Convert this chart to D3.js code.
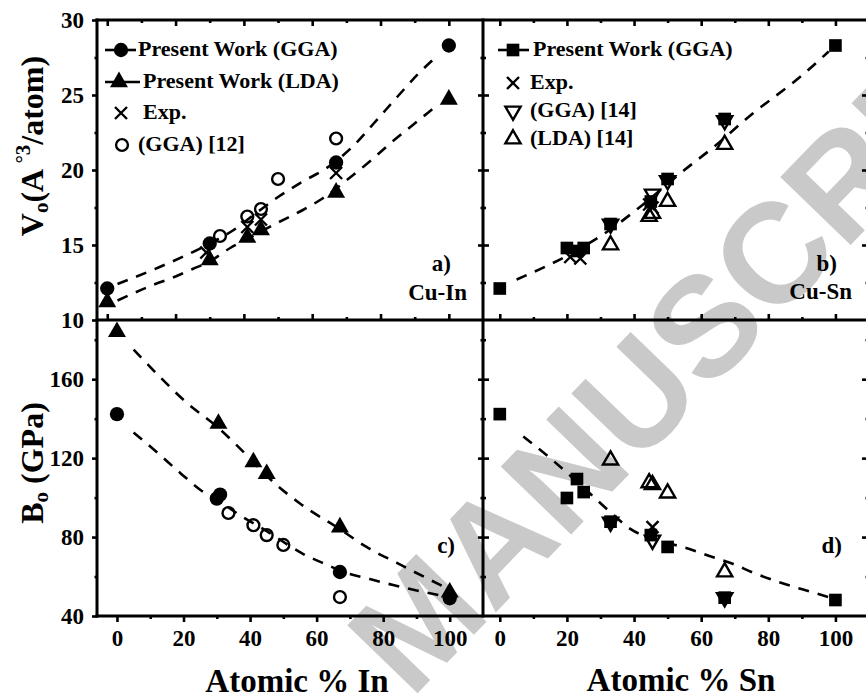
<!DOCTYPE html>
<html>
<head>
<meta charset="utf-8">
<script src="https://cdn.jsdelivr.net/npm/d3@7"></script>
<style>
  body { margin: 0; background: #fff; }
  text { font-family: "Liberation Serif", "Times New Roman", serif; font-weight: bold; }
</style>
</head>
<body>
<svg id="chart" width="866" height="699"></svg>
<script>
// ticks
const xTicks = [0, 20, 40, 60, 80, 100]
const xMinor = [10, 30, 50, 70, 90]
const vTicks = [10, 15, 20, 25, 30]
const vMinor = [12.5, 17.5, 22.5, 27.5]
const bTicks = [40, 80, 120, 160]
const bMinor = [60, 100, 140, 180]

// a) Cu-In volume
const inGgaX = [0, 30, 67, 100]
const inGgaV = [12.1, 15.1, 20.5, 28.3]
const inLdaX = [0, 30, 41, 45, 67, 100]
const inLdaV = [11.2, 14.0, 15.5, 16.0, 18.5, 24.7]
const inExpX = [29, 41, 45, 67]
const inExpV = [14.5, 16.2, 16.7, 19.8]
const inRef12X = [33, 41, 45, 50, 67]
const inRef12V = [15.6, 16.9, 17.4, 19.4, 22.1]
const fitInGgaVX = [3, 15, 30, 37, 44, 50, 57, 64, 72, 78, 85, 91, 97]
const fitInGgaV = [12.4, 13.5, 15.1, 16.0, 17.2, 18.2, 19.2, 20.1, 21.6, 23.1, 24.9, 26.4, 27.7]
const fitInLdaVX = [3, 13, 20, 25, 30, 36, 41, 45, 50, 57, 63, 70, 77, 83, 90, 97]
const fitInLdaV = [11.3, 12.3, 12.9, 13.4, 13.9, 14.8, 15.4, 15.9, 16.5, 17.3, 18.1, 19.3, 20.6, 21.8, 23.1, 24.4]

// b) Cu-Sn volume
const snGgaX = [0, 20, 23, 25, 33, 45, 50, 67, 100]
const snGgaV = [12.1, 14.8, 14.6, 14.8, 16.4, 17.9, 19.4, 23.4, 28.3]
const snExpX = [21, 24, 44.5, 45.5]
const snExpV = [14.2, 14.1, 17.7, 17.5]
const snRef14GgaX = [33, 45.5, 50, 67]
const snRef14GgaV = [16.4, 18.4, 19.3, 23.3]
const snRef14LdaX = [33, 44.5, 45.5, 50, 67]
const snRef14LdaV = [15.0, 16.9, 17.1, 17.9, 21.7]
const fitSnVX = [5, 14, 21, 34, 41, 55, 63, 75, 90, 98]
const fitSnV = [12.7, 13.6, 14.4, 16.2, 17.4, 20.0, 21.4, 23.7, 26.3, 27.9]

// c) Cu-In bulk modulus
const inGgaBX = [0, 30, 31, 67, 100]
const inGgaB = [142.3, 99.5, 101.5, 62.3, 49]
const inLdaBX = [0, 30.5, 41, 45, 67, 100]
const inLdaB = [184, 137.5, 118, 112, 85, 52]
const inRef12BX = [33.5, 41, 45, 50, 67]
const inRef12B = [92.2, 86, 81, 76, 49.6]
const fitInLdaBX = [5, 13, 21, 30, 41, 45, 55, 67, 75, 84, 98]
const fitInLdaB = [175, 161, 148, 136, 118, 111, 97, 84, 75, 67, 55]
const fitInGgaBX = [5, 12, 19, 25, 30, 37, 45, 56, 64, 67, 76, 83, 98]
const fitInGgaB = [133, 123, 112.5, 104, 99, 91, 83, 71.4, 65.3, 63, 58.7, 55.7, 50.1]

// d) Cu-Sn bulk modulus
const snGgaBX = [0, 20, 23, 25, 33, 45, 50, 67, 100]
const snGgaB = [142.3, 99.8, 109.4, 102.8, 87.8, 81, 75, 49.3, 48.1]
const snExpBX = [45.5]
const snExpB = [85]
const snRef14GgaBX = [33, 45.5, 67]
const snRef14GgaB = [87.6, 78.5, 49.3]
const snRef14LdaBX = [33, 44.5, 45.5, 50, 67]
const snRef14LdaB = [119, 107.5, 106.5, 102.3, 62.3]
const fitSnBX = [7, 15, 25, 34, 39, 47, 55, 62, 69, 76, 84, 94, 98]
const fitSnB = [131, 120, 105, 91, 84, 78.5, 74.7, 70.7, 66.7, 61.6, 56.7, 51.6, 49.5]

const legendA = ["Present Work (GGA)", "Present Work (LDA)", "Exp.", "(GGA) [12]"]
const legendB = ["Present Work (GGA)", "Exp.", "(GGA) [14]", "(LDA) [14]"]

var svg = d3.select("#chart")
svg.append("rect").attr("width", 866).attr("height", 699).attr("fill", "#fff")

var xA = d3.scaleLinear().domain([-3, 110]).range([97, 483])
var xB = d3.scaleLinear().domain([-5, 110]).range([483, 869])
var xC = d3.scaleLinear().domain([-6, 110]).range([97, 483])
var xD = d3.scaleLinear().domain([-5, 110]).range([483, 869])
var yTop = d3.scaleLinear().domain([10, 30]).range([320, 20])
var yBot = d3.scaleLinear().domain([40, 190]).range([616, 320])

// watermark
svg.append("text")
  .attr("transform", "translate(411,700) rotate(-46)")
  .style("font-family", "'Liberation Sans', Arial, sans-serif")
  .attr("font-size", 142)
  .attr("fill", "#c9c9c9")
  .text("MANUSCRIPT")

function axis(fn, scale, major, minor, size, transform, labels) {
  var g = svg.append("g").attr("transform", transform)
  g.call(fn(scale).tickValues(major).tickSizeOuter(0).tickSize(size)
    .tickPadding(labels ? 8 : 0).tickFormat(labels ? d3.format("d") : ""))
  g.call(function(s) { s.select(".domain").remove() })
  g.selectAll(".tick line").attr("stroke", "#000").attr("stroke-width", 2.6)
  g.selectAll(".tick text").attr("font-size", 23).attr("fill", "#000")
    .style("font-family", "'Liberation Serif', serif").style("font-weight", "bold")
  var m = svg.append("g").attr("transform", transform)
  m.call(fn(scale).tickValues(minor).tickSizeOuter(0).tickSize(size / 2).tickFormat(""))
  m.call(function(s) { s.select(".domain").remove() })
  m.selectAll(".tick line").attr("stroke", "#000").attr("stroke-width", 2.6)
}

// ticks: top panels
axis(d3.axisBottom, xA, xTicks, xMinor, 6, "translate(0,20)", false)
axis(d3.axisBottom, xB, xTicks, xMinor, 6, "translate(0,20)", false)
axis(d3.axisTop, xA, xTicks, xMinor, 6, "translate(0,320)", false)
axis(d3.axisTop, xB, xTicks, xMinor, 6, "translate(0,320)", false)
axis(d3.axisLeft, yTop, vTicks, vMinor, 5, "translate(97,0)", true)
axis(d3.axisLeft, yTop, vTicks.slice(1, 4), vMinor, 5, "translate(483,0)", false)
axis(d3.axisRight, yTop, vTicks.slice(1, 4), vMinor, 6, "translate(483,0)", false)
axis(d3.axisLeft, yTop, vTicks.slice(1, 4), vMinor, 7, "translate(869,0)", false)
// ticks: bottom panels
axis(d3.axisBottom, xC, xTicks, xMinor, 6, "translate(0,616)", true)
axis(d3.axisBottom, xD, xTicks, xMinor, 6, "translate(0,616)", true)
axis(d3.axisLeft, yBot, bTicks, bMinor, 5, "translate(97,0)", true)
axis(d3.axisLeft, yBot, bTicks.slice(1), bMinor, 5, "translate(483,0)", false)
axis(d3.axisRight, yBot, bTicks.slice(1), bMinor, 6, "translate(483,0)", false)
axis(d3.axisLeft, yBot, bTicks.slice(1), bMinor, 7, "translate(869,0)", false)

// frame
var frame = svg.append("g").attr("stroke", "#000").attr("stroke-width", 3).attr("fill", "none")
;[20, 320, 616].forEach(function(y) {
  frame.append("line").attr("x1", xA.range()[0] - 1.5).attr("x2", xB.range()[1]).attr("y1", y).attr("y2", y)
})
;[xA.range()[0], xB.range()[0], xB.range()[1]].forEach(function(x) {
  frame.append("line").attr("x1", x).attr("x2", x).attr("y1", 18.5).attr("y2", 617.5)
})

// fits
function fit(xs, ys, x, y) {
  var line = d3.line().x(function(d) { return x(d[0]) }).y(function(d) { return y(d[1]) })
    .curve(d3.curveMonotoneX)
  svg.append("path").datum(d3.zip(xs, ys)).attr("d", line)
    .attr("fill", "none").attr("stroke", "#000").attr("stroke-width", 2.6)
    .attr("stroke-dasharray", "11,9")
}
fit(fitInGgaVX, fitInGgaV, xA, yTop)
fit(fitInLdaVX, fitInLdaV, xA, yTop)
fit(fitSnVX, fitSnV, xB, yTop)
fit(fitInLdaBX, fitInLdaB, xC, yBot)
fit(fitInGgaBX, fitInGgaB, xC, yBot)
fit(fitSnBX, fitSnB, xD, yBot)

// markers
var shapes = {
  circleFill: { d: d3.symbol(d3.symbolCircle, 160)(), fill: "#000", stroke: "none" },
  circleOpen: { d: d3.symbol(d3.symbolCircle, 110)(), fill: "none", stroke: "#000" },
  triFill: { d: d3.symbol(d3.symbolTriangle, 140)(), fill: "#000", stroke: "none" },
  triOpen: { d: d3.symbol(d3.symbolTriangle, 100)(), fill: "none", stroke: "#000" },
  nablaOpen: { d: d3.symbol(d3.symbolTriangle, 100)(), fill: "none", stroke: "#000", rot: 180 },
  square: { d: d3.symbol(d3.symbolSquare, 160)(), fill: "#000", stroke: "none" },
  cross: { d: "M-6,-6L6,6M-6,6L6,-6", fill: "none", stroke: "#000" }
}

function marker(g, type, px, py) {
  var s = shapes[type]
  g.append("path").attr("d", s.d)
    .attr("transform", "translate(" + px + "," + py + ")" + (s.rot ? " rotate(" + s.rot + ")" : ""))
    .attr("fill", s.fill).attr("stroke", s.stroke).attr("stroke-width", 2.4)
}

function marks(xs, ys, x, y, type) {
  var g = svg.append("g")
  d3.zip(xs, ys).forEach(function(d) { marker(g, type, x(d[0]), y(d[1])) })
}

marks(inRef12X, inRef12V, xA, yTop, "circleOpen")
marks(inLdaX, inLdaV, xA, yTop, "triFill")
marks(inExpX, inExpV, xA, yTop, "cross")
marks(inGgaX, inGgaV, xA, yTop, "circleFill")

marks(snRef14LdaX, snRef14LdaV, xB, yTop, "triOpen")
marks(snGgaX, snGgaV, xB, yTop, "square")
marks(snRef14GgaX, snRef14GgaV, xB, yTop, "nablaOpen")
marks(snExpX, snExpV, xB, yTop, "cross")

marks(inRef12BX, inRef12B, xC, yBot, "circleOpen")
marks(inLdaBX, inLdaB, xC, yBot, "triFill")
marks(inGgaBX, inGgaB, xC, yBot, "circleFill")

marks(snRef14LdaBX, snRef14LdaB, xD, yBot, "triOpen")
marks(snGgaBX, snGgaB, xD, yBot, "square")
marks(snRef14GgaBX, snRef14GgaB, xD, yBot, "nablaOpen")
marks(snExpBX, snExpB, xD, yBot, "cross")

// legends
function legend(rows, items) {
  var g = svg.append("g")
  rows.forEach(function(r, i) {
    if (r.line) {
      g.append("line").attr("x1", r.line[0]).attr("x2", r.line[1]).attr("y1", r.y).attr("y2", r.y)
        .attr("stroke", "#000").attr("stroke-width", 2.6)
    }
    marker(g, r.type, r.mx, r.y)
    g.append("text").attr("x", r.tx).attr("y", r.y + 6).attr("font-size", 22).text(items[i])
  })
}
legend([
  { type: "circleFill", mx: 121, y: 50, line: [105, 136], tx: 138 },
  { type: "triFill", mx: 119, y: 82, line: [105, 140], tx: 143 },
  { type: "cross", mx: 121, y: 113, tx: 143 },
  { type: "circleOpen", mx: 122, y: 145, tx: 138 }
], legendA)
legend([
  { type: "square", mx: 513, y: 50, line: [498, 529], tx: 533 },
  { type: "cross", mx: 513, y: 83, tx: 530 },
  { type: "nablaOpen", mx: 513, y: 111, tx: 530 },
  { type: "triOpen", mx: 513, y: 139, tx: 530 }
], legendB)

// panel labels
function label(x, y, t, size) {
  svg.append("text").attr("x", x).attr("y", y).attr("text-anchor", "end").attr("font-size", size).text(t)
}
label(451, 271, "a)", 23)
label(467, 300, "Cu-In", 23)
label(837, 271, "b)", 23)
label(852, 299, "Cu-Sn", 23)
label(455, 553, "c)", 23)
label(842, 553, "d)", 23)

// axis titles
var vt = svg.append("text").attr("transform", "translate(43,146) rotate(-90)")
  .attr("text-anchor", "middle").attr("font-size", 32)
vt.append("tspan").text("V")
vt.append("tspan").attr("font-size", 21).attr("dy", 5).text("o")
vt.append("tspan").attr("dy", -5).text("(A")
vt.append("tspan").attr("font-size", 21).attr("dy", -13).text(" \u00b03")
vt.append("tspan").attr("dy", 13).text("/atom)")

var bt = svg.append("text").attr("transform", "translate(43,463) rotate(-90)")
  .attr("text-anchor", "middle").attr("font-size", 32)
bt.append("tspan").text("B")
bt.append("tspan").attr("font-size", 21).attr("dy", 5).text("o")
bt.append("tspan").attr("dy", -5).text(" (GPa)")

svg.append("text").attr("x", 297).attr("y", 692).attr("text-anchor", "middle").attr("font-size", 33).text("Atomic % In")
svg.append("text").attr("x", 681).attr("y", 691).attr("text-anchor", "middle").attr("font-size", 33).text("Atomic % Sn")
</script>
</body>
</html>
